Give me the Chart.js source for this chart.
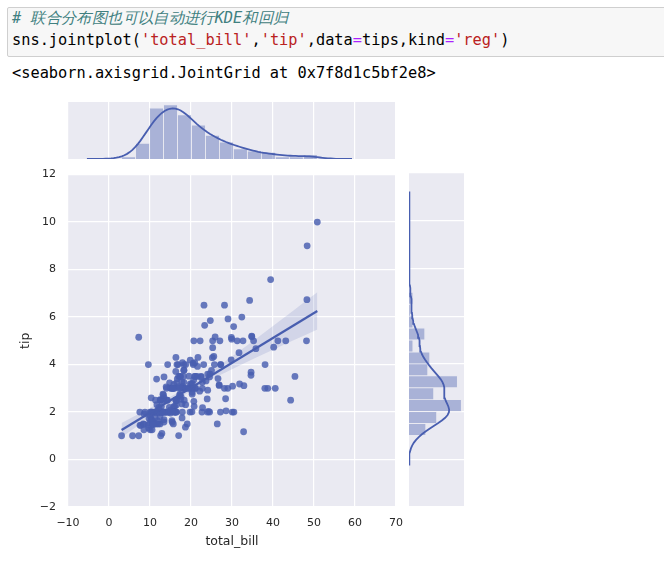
<!DOCTYPE html>
<html>
<head>
<meta charset="utf-8">
<script src="https://cdn.jsdelivr.net/npm/chart.js@4.4.0/dist/chart.umd.min.js"></script>
<style>
body{margin:0;background:#fff;width:664px;height:571px;overflow:hidden;position:relative;font-family:"DejaVu Sans Mono",monospace;}
.cell{position:absolute;left:7px;top:7px;width:700px;height:48px;background:#f7f7f7;border:1px solid #cfcfcf;border-radius:2px;}
.ln{position:absolute;left:12px;font-size:15.3px;line-height:18px;white-space:pre;color:#000;}
.cm{color:#408080;font-style:italic;}
.cjk{letter-spacing:0.35px;}
.s{color:#BA2121;}
.o{color:#AA22FF;}
canvas{position:absolute;}
</style>
</head>
<body>
<div class="cell"></div>
<div class="ln cm" style="top:9px"># <span class="cjk">联合分布图也可以自动进行</span>KDE<span class="cjk">和回归</span></div>
<div class="ln" style="top:31px">sns.jointplot(<span class="s">'total_bill'</span>,<span class="s">'tip'</span>,data<span class="o">=</span>tips,kind<span class="o">=</span><span class="s">'reg'</span>)</div>
<div class="ln" style="top:64px">&lt;seaborn.axisgrid.JointGrid at 0x7f8d1c5bf2e8&gt;</div>

<canvas id="mainChart" width="420" height="409" style="left:0;top:156px"></canvas>
<canvas id="topChart" width="328" height="57" style="left:68px;top:102px"></canvas>
<canvas id="rightChart" width="55" height="334" style="left:409px;top:173px"></canvas>

<script>
// tips dataset: total_bill / tip
var totalBill = [16.99,10.34,21.01,23.68,24.59,25.29,8.77,26.88,15.04,14.78,10.27,35.26,15.42,18.43,14.83,21.58,10.33,16.29,16.97,20.65,
17.92,20.29,15.77,39.42,19.82,17.81,13.37,12.69,21.70,19.65,9.55,18.35,15.06,20.69,17.78,24.06,16.31,16.93,18.69,31.27,
16.04,17.46,13.94,9.68,30.40,18.29,22.23,32.40,28.55,18.04,12.54,10.29,34.81,9.94,25.56,19.49,38.01,26.41,11.24,48.27,
20.29,13.81,11.02,18.29,17.59,20.08,16.45,3.07,20.23,15.01,12.02,17.07,26.86,25.28,14.73,10.51,17.92,27.20,22.76,17.29,
19.44,16.66,10.07,32.68,15.98,34.83,13.03,18.28,24.71,21.16,28.97,22.49,5.75,16.32,22.75,40.17,27.28,12.03,21.01,12.46,
11.35,15.38,44.30,22.42,20.92,15.36,20.49,25.21,18.24,14.31,14.00,7.25,38.07,23.95,25.71,17.31,29.93,10.65,12.43,24.08,
11.69,13.42,14.26,15.95,12.48,29.80,8.52,14.52,11.38,22.82,19.08,20.27,11.17,12.26,18.26,8.51,10.33,14.15,16.00,13.16,
17.47,34.30,41.19,27.05,16.43,8.35,18.64,11.87,9.78,7.51,14.07,13.13,17.26,24.55,19.77,29.85,48.17,25.00,13.39,16.49,
21.50,12.66,16.21,13.81,17.51,24.52,20.76,31.71,10.59,10.63,50.81,15.81,7.25,31.85,16.82,32.90,17.89,14.48,9.60,34.63,
34.65,23.33,45.35,23.17,40.55,20.69,20.90,30.46,18.15,23.10,15.69,19.81,28.44,15.48,16.58,7.56,10.34,43.11,13.00,13.51,
18.71,12.74,13.00,16.40,20.53,16.47,26.59,38.73,24.27,12.76,30.06,25.89,48.33,13.27,28.17,12.90,28.15,11.59,7.74,30.14,
12.16,13.42,8.58,15.98,13.42,16.27,10.09,20.45,13.28,22.12,24.01,15.69,11.61,10.77,15.53,10.07,12.60,32.83,35.83,29.03,
27.18,22.67,17.82,18.78];
var tip = [1.01,1.66,3.50,3.31,3.61,4.71,2.00,3.12,1.96,3.23,1.71,5.00,1.57,3.00,3.02,3.92,1.67,3.71,3.50,3.35,
4.08,2.75,2.23,7.58,3.18,2.34,2.00,2.00,4.30,3.00,1.45,2.50,3.00,2.45,3.27,3.60,2.00,3.07,2.31,5.00,
2.24,2.54,3.06,1.32,5.60,3.00,5.00,6.00,2.05,3.00,2.50,2.60,5.20,1.56,4.34,3.51,3.00,1.50,1.76,6.73,
3.21,2.00,1.98,3.76,2.64,3.15,2.47,1.00,2.01,2.09,1.97,3.00,3.14,5.00,2.20,1.25,3.08,4.00,3.00,2.71,
3.00,3.40,1.83,5.00,2.03,5.17,2.00,4.00,5.85,3.00,3.00,3.50,1.00,4.30,3.25,4.73,4.00,1.50,3.00,1.50,
2.50,3.00,2.50,3.48,4.08,1.64,4.06,4.29,3.76,4.00,3.00,1.00,4.00,2.55,4.00,3.50,5.07,1.50,1.80,2.92,
2.31,1.68,2.50,2.00,2.52,4.20,1.48,2.00,2.00,2.18,1.50,2.83,1.50,2.00,3.25,1.25,2.00,2.00,2.00,2.75,
3.50,6.70,5.00,5.00,2.30,1.50,1.36,1.63,1.73,2.00,2.50,2.00,2.74,2.00,2.00,5.14,5.00,3.75,2.61,2.00,
3.50,2.50,2.00,2.00,3.00,3.48,2.24,4.50,1.61,2.00,10.00,3.16,5.15,3.18,4.00,3.11,2.00,2.00,4.00,3.55,
3.68,5.65,3.50,6.50,3.00,5.00,3.50,2.00,3.50,4.00,1.50,4.19,2.56,2.02,4.00,1.44,2.00,5.00,2.00,2.00,
4.00,2.01,2.00,2.50,4.00,3.23,3.41,3.00,2.03,2.23,2.00,5.16,9.00,2.50,6.50,1.10,3.00,1.50,1.44,3.09,
2.20,3.48,1.92,3.00,1.58,2.50,2.00,3.00,2.72,2.88,2.00,3.00,3.39,1.47,3.00,1.25,1.00,1.17,4.67,5.92,
2.00,2.00,1.75,3.00];

// axis ticks
var xTicks = [-10, 0, 10, 20, 30, 40, 50, 60, 70];
var yTicks = [-2, 0, 2, 4, 6, 8, 10, 12];

// bootstrap confidence band of the regression
var bandX  = [3.07, 10, 15, 20, 25, 30, 35, 40, 45, 50.81];
var bandLo = [0.94, 1.77, 2.35, 2.89, 3.38, 3.80, 4.22, 4.62, 5.02, 5.48];
var bandHi = [1.54, 2.17, 2.64, 3.15, 3.72, 4.34, 4.97, 5.62, 6.28, 7.04];

var blue = 'rgb(72,94,176)';
var blueA = function (a) { return 'rgba(72,94,176,' + a + ')'; };

Chart.defaults.font.family = 'DejaVu Sans';
Chart.defaults.color = '#262626';

var bgPlugin = {
    id: 'bg',
    beforeDraw: function (c) {
        var a = c.chartArea;
        c.ctx.save();
        c.ctx.fillStyle = '#EAEAF2';
        c.ctx.fillRect(a.left, a.top, a.right - a.left, a.bottom - a.top);
        c.ctx.restore();
    }
};

function sorted(v) { return v.slice().sort(function (a, b) { return a - b; }); }
function pct(s, p) {
    var i = (s.length - 1) * p, lo = Math.floor(i), f = i - lo;
    return s[lo] + (s[Math.min(lo + 1, s.length - 1)] - s[lo]) * f;
}

// gaussian kde, scott bandwidth (statsmodels style), cut = 3
function kde(values) {
    var s = sorted(values), n = s.length;
    var mean = s.reduce(function (a, b) { return a + b; }, 0) / n;
    var sd = Math.sqrt(s.reduce(function (a, b) { return a + (b - mean) * (b - mean); }, 0) / (n - 1));
    var A = Math.min(sd, (pct(s, 0.75) - pct(s, 0.25)) / 1.349);
    var bw = 1.059 * A * Math.pow(n, -0.2);
    var lo = s[0] - 3 * bw, hi = s[n - 1] + 3 * bw;
    var out = [];
    for (var k = 0; k < 100; k++) {
        var x = lo + (hi - lo) * k / 99, d = 0;
        for (var j = 0; j < n; j++) {
            var z = (x - s[j]) / bw;
            d += Math.exp(-z * z / 2);
        }
        out.push({ v: x, d: d / (n * bw * Math.sqrt(2 * Math.PI)) });
    }
    return out;
}

// density histogram, Freedman-Diaconis bin count
function hist(values) {
    var s = sorted(values), n = s.length;
    var h = 2 * (pct(s, 0.75) - pct(s, 0.25)) / Math.pow(n, 1 / 3);
    var bins = Math.min(Math.ceil((s[n - 1] - s[0]) / h), 50);
    var w = (s[n - 1] - s[0]) / bins;
    var counts = new Array(bins).fill(0);
    s.forEach(function (v) {
        var b = Math.floor((v - s[0]) / w);
        if (b >= bins) b = bins - 1;
        counts[b]++;
    });
    return counts.map(function (c, i) {
        return { v: s[0] + w * (i + 0.5), d: c / (n * w) };
    });
}

// least squares line
var n = totalBill.length, mx = 0, my = 0;
for (var i = 0; i < n; i++) { mx += totalBill[i]; my += tip[i]; }
mx /= n; my /= n;
var sxy = 0, sxx = 0;
for (var i = 0; i < n; i++) { sxy += (totalBill[i] - mx) * (tip[i] - my); sxx += (totalBill[i] - mx) * (totalBill[i] - mx); }
var slope = sxy / sxx, icpt = my - slope * mx;
var xmin = Math.min.apply(null, totalBill), xmax = Math.max.apply(null, totalBill);

var minus = function (v) { return String(v).replace('-', '\u2212'); };

var points = totalBill.map(function (b, i) { return { x: b, y: tip[i] }; });

new Chart(document.getElementById('mainChart'), {
    type: 'scatter',
    data: {
        datasets: [{
            type: 'line',
            data: bandX.map(function (x, i) { return { x: x, y: bandHi[i] }; }),
            borderWidth: 0, pointRadius: 0, fill: '+1',
            backgroundColor: blueA(0.15), cubicInterpolationMode: 'monotone', order: 1
        }, {
            type: 'line',
            data: bandX.map(function (x, i) { return { x: x, y: bandLo[i] }; }),
            borderWidth: 0, pointRadius: 0, fill: false,
            cubicInterpolationMode: 'monotone', order: 1
        }, {
            type: 'line',
            data: [{ x: xmin, y: icpt + slope * xmin }, { x: xmax, y: icpt + slope * xmax }],
            borderColor: blue, borderWidth: 2.2, pointRadius: 0, fill: false, order: 2
        }, {
            data: points,
            backgroundColor: blueA(0.82), borderWidth: 0, pointRadius: 3.4, order: 3
        }]
    },
    options: {
        responsive: false, animation: false,
        layout: { padding: { left: 0, right: 24, top: 8, bottom: 0 } },
        plugins: { legend: { display: false }, tooltip: { enabled: false } },
        scales: {
            x: {
                type: 'linear', min: -10, max: 70,
                afterBuildTicks: function (s) { s.ticks = xTicks.map(function (v) { return { value: v }; }); },
                afterFit: function (s) { s.height = 58; },
                ticks: { padding: 10, font: { size: 11 }, callback: minus },
                grid: { color: '#fff', lineWidth: 1.2, drawTicks: false },
                border: { display: false },
                title: { display: true, text: 'total_bill', font: { size: 12.5 }, padding: { top: 0, bottom: 16 } }
            },
            y: {
                type: 'linear', min: -2, max: 12,
                afterBuildTicks: function (s) { s.ticks = yTicks.map(function (v) { return { value: v }; }); },
                afterFit: function (s) { s.width = 68; },
                ticks: { padding: 12, font: { size: 11 }, callback: minus },
                grid: { color: '#fff', lineWidth: 1.2, drawTicks: false },
                border: { display: false },
                title: { display: true, text: 'tip', font: { size: 12.5 }, padding: { top: 18, bottom: 0 } }
            }
        }
    },
    plugins: [bgPlugin]
});

// top marginal: total_bill
var hx = hist(totalBill), kx = kde(totalBill);
var topMax = 1.05 * Math.max(Math.max.apply(null, hx.map(function (b) { return b.d; })),
                             Math.max.apply(null, kx.map(function (p) { return p.d; })));

new Chart(document.getElementById('topChart'), {
    type: 'bar',
    data: {
        datasets: [{
            type: 'line',
            data: kx.map(function (p) { return { x: p.v, y: p.d }; }),
            borderColor: blue, borderWidth: 1.8, pointRadius: 0, fill: false
        }, {
            data: hx.map(function (b) { return { x: b.v, y: b.d }; }),
            backgroundColor: blueA(0.4), borderColor: 'rgba(234,234,242,0.5)', borderWidth: 0.8,
            barPercentage: 1, categoryPercentage: 1
        }]
    },
    options: {
        responsive: false, animation: false,
        layout: { padding: 0 },
        plugins: { legend: { display: false }, tooltip: { enabled: false } },
        scales: {
            x: {
                type: 'linear', min: -10, max: 70, offset: false,
                afterBuildTicks: function (s) { s.ticks = xTicks.map(function (v) { return { value: v }; }); },
                afterFit: function (s) { s.height = 0; },
                ticks: { display: false },
                grid: { color: '#fff', lineWidth: 1.2, drawTicks: false, offset: false },
                border: { display: false }
            },
            y: { display: false, min: 0, max: topMax }
        }
    },
    plugins: [bgPlugin]
});

// right marginal: tip
var hy = hist(tip), ky = kde(tip);
var rightMax = 1.05 * Math.max(Math.max.apply(null, hy.map(function (b) { return b.d; })),
                               Math.max.apply(null, ky.map(function (p) { return p.d; })));

new Chart(document.getElementById('rightChart'), {
    type: 'bar',
    data: {
        datasets: [{
            type: 'line',
            data: ky.map(function (p) { return { x: p.d, y: p.v }; }),
            borderColor: blue, borderWidth: 1.8, pointRadius: 0, fill: false
        }, {
            data: hy.map(function (b) { return { x: b.d, y: b.v }; }),
            backgroundColor: blueA(0.4), borderColor: 'rgba(234,234,242,0.5)', borderWidth: 0.8,
            barPercentage: 1, categoryPercentage: 1
        }]
    },
    options: {
        indexAxis: 'y',
        responsive: false, animation: false,
        layout: { padding: 0 },
        plugins: { legend: { display: false }, tooltip: { enabled: false } },
        scales: {
            y: {
                type: 'linear', min: -2, max: 12, offset: false,
                afterBuildTicks: function (s) { s.ticks = yTicks.map(function (v) { return { value: v }; }); },
                afterFit: function (s) { s.width = 0; },
                ticks: { display: false },
                grid: { color: '#fff', lineWidth: 1.2, drawTicks: false, offset: false },
                border: { display: false }
            },
            x: { type: 'linear', display: false, min: 0, max: rightMax }
        }
    },
    plugins: [bgPlugin]
});
</script>
</body>
</html>
